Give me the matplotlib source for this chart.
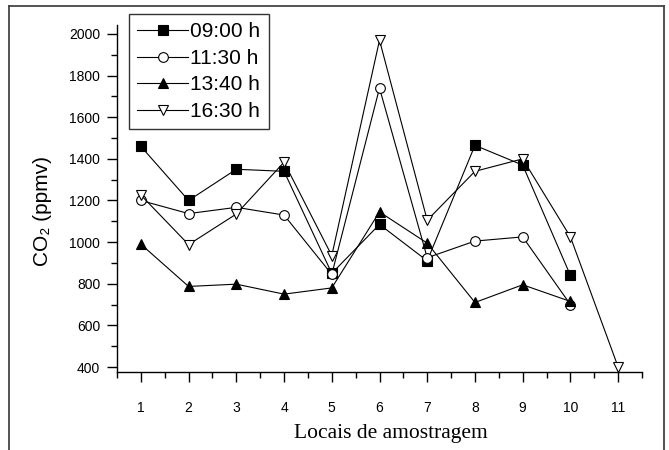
import numpy as np
import matplotlib
matplotlib.use('Agg')
import matplotlib.pyplot as plt
from matplotlib.lines import Line2D
import matplotlib.ticker as ticker

# sampling sites
locais = [1, 2, 3, 4, 5, 6, 7, 8, 9, 10, 11]
# CO2 (ppmv) per sampling time
co2_0900 = [1460, 1200, 1350, 1340, 850, 1085, 910, 1465, 1370, 840]
co2_1130 = [1200, 1137, 1167, 1130, 845, 1740, 925, 1005, 1025, 700]
co2_1340 = [990, 787, 798, 750, 780, 1145, 995, 710, 795, 715]
co2_1630 = [1226, 988, 1135, 1384, 935, 1970, 1105, 1340, 1400, 1025, 400]
labels = ['09:00 h', '11:30 h', '13:40 h', '16:30 h']

W, H = 669, 450
fig = plt.figure(figsize=(W/100, H/100), dpi=100)
ax = fig.add_axes([117/W, 1-372/H, (642-117)/W, (372-25)/H])

sans = ['Liberation Sans', 'DejaVu Sans']
kw = dict(color='k', lw=0.8, mec='k', mew=0.8, ms=7)
ax.plot(locais[:len(co2_0900)], co2_0900, marker='s', mfc='k', label=labels[0], **kw)
ax.plot(locais[:len(co2_1130)], co2_1130, marker='o', mfc='w', label=labels[1], **kw)
ax.plot(locais[:len(co2_1340)], co2_1340, marker='^', mfc='k', label=labels[2], **kw)
ax.plot(locais[:len(co2_1630)], co2_1630, marker='v', mfc='w', label=labels[3], **kw)

ax.set_xlim(0.5, 11.5)
ax.set_ylim(376, 2043)
ax.set_xticks(locais)
ax.xaxis.set_minor_locator(ticker.MultipleLocator(0.5))
ax.yaxis.set_major_locator(ticker.MultipleLocator(200))
ax.yaxis.set_minor_locator(ticker.MultipleLocator(100))
ax.set_yticks(np.arange(400, 2001, 200))
ax.spines['top'].set_visible(False)
ax.spines['right'].set_visible(False)
for s in ['left', 'bottom']:
    ax.spines[s].set_linewidth(1.0)
ax.tick_params(which='major', direction='out', length=7, width=1.0)
ax.tick_params(which='minor', direction='out', length=4, width=1.0)
ax.tick_params(axis='x', which='major', pad=14)
ax.tick_params(axis='y', which='major', pad=5)
for t in ax.get_xticklabels() + ax.get_yticklabels():
    t.set_family(sans)
    t.set_fontsize(10)

fig.text(43/W, 1-211/H, 'CO₂ (ppmv)', rotation=90, ha='center', va='center',
         family=sans, fontsize=15)
fig.text(391/W, 1-438/H, 'Locais de amostragem', ha='center', va='baseline',
         family=['Liberation Serif', 'DejaVu Serif'], fontsize=15.5)

leg = ax.legend(loc='upper left', bbox_to_anchor=(129/W, 1-14/H),
                bbox_transform=fig.transFigure, borderaxespad=0,
                prop={'family': sans, 'size': 15}, frameon=True, fancybox=False,
                edgecolor='k', handlelength=2.45, handletextpad=0.1,
                labelspacing=0.36, borderpad=0.4)
leg.get_frame().set_linewidth(1.0)

# outer frame around the figure
fc = '#444444'
fig.add_artist(Line2D([9/W, 9/W], [0, 1-6/H], transform=fig.transFigure, color=fc, lw=1.3))
fig.add_artist(Line2D([9/W, 664/W], [1-6/H, 1-6/H], transform=fig.transFigure, color=fc, lw=1.3))
fig.add_artist(Line2D([664/W, 664/W], [0, 1-6/H], transform=fig.transFigure, color=fc, lw=1.3))

fig.savefig('out.png', dpi=100)
